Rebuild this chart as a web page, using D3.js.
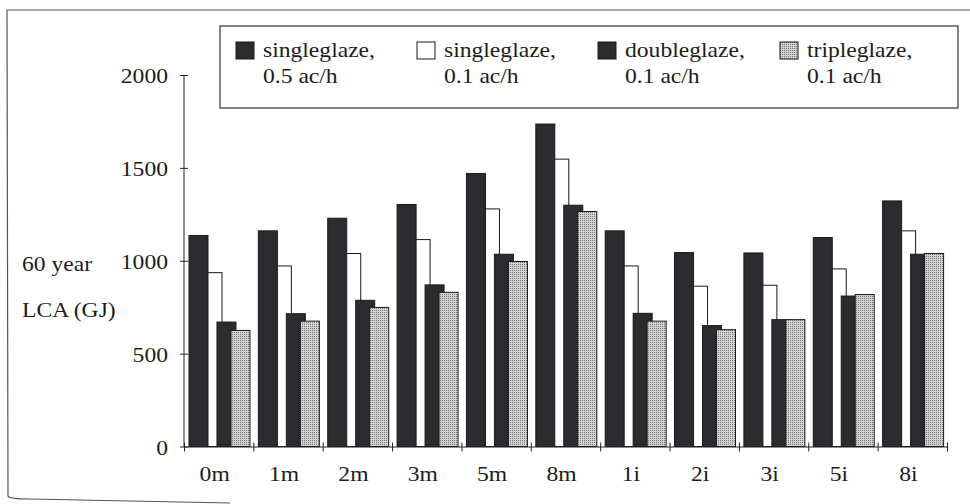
<!DOCTYPE html>
<html>
<head>
<meta charset="UTF-8">
<script src="https://d3js.org/d3.v7.min.js"></script>
<style>
  * { margin: 0; padding: 0; box-sizing: border-box; }
  body { background: #fff; }
  svg text { font-family: "Liberation Serif", "DejaVu Serif", serif; font-size: 20px; fill: #1c1c1c; }
</style>
</head>
<body>
<div id="chart"></div>
<script>
const categories = ["0m", "1m", "2m", "3m", "5m", "8m", "1i", "2i", "3i", "5i", "8i"];
const single05 = [1136, 1161, 1229, 1303, 1470, 1736, 1161, 1044, 1042, 1125, 1322];
const single01 = [936, 972, 1039, 1114, 1279, 1547, 972, 863, 868, 956, 1161];
const double01 = [670, 715, 787, 870, 1035, 1299, 717, 651, 683, 810, 1035];
const triple01 = [625, 675, 749, 830, 996, 1265, 675, 629, 683, 818, 1039];
const yTicks = [0, 500, 1000, 1500, 2000];
const legendLines = [
  ["singleglaze,", "0.5 ac/h"],
  ["singleglaze,", "0.1 ac/h"],
  ["doubleglaze,", "0.1 ac/h"],
  ["tripleglaze,", "0.1 ac/h"]
];

const W = 970, H = 504;
const svg = d3.select("#chart").append("svg")
  .attr("width", W).attr("height", H);

// stipple pattern for the tripleglaze bars
const defs = svg.append("defs");
const pat = defs.append("pattern")
  .attr("id", "dots").attr("patternUnits", "userSpaceOnUse")
  .attr("width", 2).attr("height", 2);
pat.append("rect").attr("width", 2).attr("height", 2).attr("fill", "#d2d2d2");
pat.append("rect").attr("width", 1).attr("height", 1).attr("fill", "#7a7a7a");

const series = [
  {key: "s05", values: single05, fill: "#2b2b30", order: 1},
  {key: "s01", values: single01, fill: "#ffffff", order: 0},
  {key: "d01", values: double01, fill: "#2b2b30", order: 2},
  {key: "t01", values: triple01, fill: "url(#dots)", order: 3}
];

// page frame of the scan
svg.append("path")
  .attr("d", "M970,10 L7,10 L8,496 Q9,499 30,499 L230,503")
  .attr("fill", "none").attr("stroke", "#555").attr("stroke-width", 1.2);

const x = d3.scaleBand().domain(categories).range([184, 947]).padding(0);
const xi = d3.scaleLinear().domain([0, categories.length]).range([184, 947]);
const off = d3.scaleLinear().domain([0, 3]).range([0.072, 0.677]);
const barW = x.bandwidth() * 0.274;
const y = d3.scaleLinear().domain([0, 2000]).range([446.5, 75]);

function txt(g, px, py, s, anchor) {
  return g.append("text")
    .attr("transform", `translate(${px},${py}) scale(1.18,1)`)
    .attr("text-anchor", anchor || "start")
    .text(s);
}

// bars (white series first so the dark ones overlap it)
const bars = svg.append("g");
series.slice().sort((a, b) => a.order - b.order).forEach(s => {
  const idx = series.indexOf(s);
  bars.selectAll(".b" + s.key)
    .data(s.values.map((v, i) => ({c: categories[i], v})))
    .enter().append("rect")
    .attr("x", d => x(d.c) + off(idx) * x.bandwidth())
    .attr("y", d => y(d.v))
    .attr("width", barW)
    .attr("height", d => y(0) - y(d.v))
    .attr("fill", s.fill)
    .attr("stroke", "#1a1a1a")
    .attr("stroke-width", 1);
});

// y axis
const yAxis = svg.append("g").attr("transform", "translate(184,0)")
  .call(d3.axisLeft(y).tickValues(yTicks).tickSize(4).tickSizeOuter(0).tickFormat(""));
yAxis.select(".domain").attr("stroke", "#222").attr("d", `M0,${y(0)}V${y(2000)}`);
yAxis.selectAll(".tick line").attr("x1", 4).attr("x2", -4).attr("stroke", "#222");
yTicks.forEach(t => txt(svg, 168, y(t) + 8, String(t), "end"));

// x axis
const xAxis = svg.append("g").attr("transform", `translate(0,${y(0)})`)
  .call(d3.axisBottom(xi).tickValues(d3.range(categories.length + 1)).tickSize(4).tickSizeOuter(0).tickFormat(""));
xAxis.select(".domain").attr("stroke", "#222");
xAxis.selectAll(".tick line").attr("y1", -4).attr("y2", 5).attr("stroke", "#222");
categories.forEach(c => txt(svg, x(c) + x.bandwidth() / 2 - 4, 481, c, "middle"));

// y title
txt(svg, 22, 271, "60 year");
txt(svg, 22, 317, "LCA (GJ)");

// legend
const lg = svg.append("g");
lg.append("rect").attr("x", 220).attr("y", 26).attr("width", 738).attr("height", 82)
  .attr("fill", "#fff").attr("stroke", "#333").attr("stroke-width", 1.2);
const legX = [236, 417, 598, 780];
series.forEach((s, i) => {
  lg.append("rect").attr("x", legX[i]).attr("y", 42).attr("width", 18).attr("height", 17)
    .attr("fill", s.fill).attr("stroke", "#1a1a1a");
  txt(lg, legX[i] + 27, 57, legendLines[i][0]);
  txt(lg, legX[i] + 27, 83, legendLines[i][1]);
});
</script>
</body>
</html>
